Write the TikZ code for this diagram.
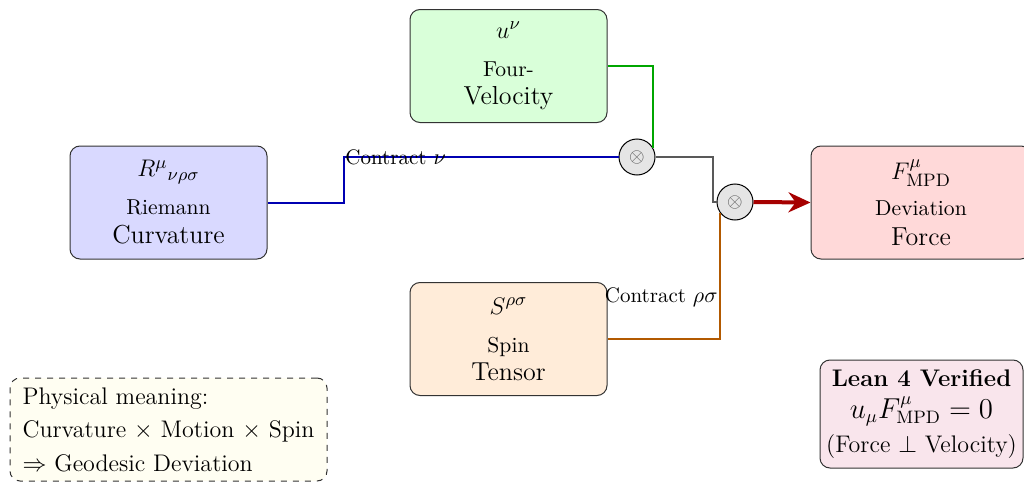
\documentclass[tikz,border=0pt]{standalone}
\usetikzlibrary{arrows.meta,calc}
\newcommand{\linea}{\fontsize{10.8}{13}\selectfont}
\newcommand{\lineb}{\fontsize{13}{15}\selectfont}
\tikzset{
  box/.style={draw=black!80, line width=0.5pt, rounded corners=5pt, align=center,
    minimum width=98.5pt, minimum height=56.5pt, inner sep=2pt},
  prod/.style={circle, draw=black, line width=0.5pt, fill=gray!20, minimum size=18pt,
    inner sep=0pt, text=black!65, font=\normalsize},
  conn/.style={line width=1pt},
  lbl/.style={font=\fontsize{10.5}{12}\selectfont, inner sep=0pt}
}
\begin{document}
\begin{tikzpicture}[x=0.5pt,y=-0.5pt]
\useasboundingbox (0,0) rectangle (1024,482);
% main boxes
\node[box, fill=blue!15] (riem) at (168.5,202.5)
  {{\lineb $R^{\mu}{}_{\nu\rho\sigma}$}\\[7pt]{\linea Riemann}\\[2.5pt]{\lineb Curvature}};
\node[box, fill=green!15] (vel) at (508.5,66)
  {{\lineb $u^{\nu}$}\\[7pt]{\linea Four-}\\[2pt]{\lineb Velocity}};
\node[box, fill=orange!15] (spin) at (508.5,339)
  {{\lineb $S^{\rho\sigma}$}\\[7pt]{\linea Spin}\\[2pt]{\lineb Tensor}};
\node[box, fill=red!15, minimum width=110pt] (force) at (921,202.5)
  {{\lineb $F^{\mu}_{\mathrm{MPD}}$}\\[6pt]{\linea Deviation}\\[3pt]{\lineb Force}};
% product nodes
\node[prod] (c1) at (637,157) {$\otimes$};
\node[prod] (c2) at (735,202) {$\otimes$};
% connectors
\draw[conn, draw=blue!70!black] (riem.east) -- ++(76,0) |- (c1.west);
\draw[conn, draw=green!65!black] (vel.east) -| (c1.30);
\draw[conn, draw=black!65] (c1.east) -- ++(57,0) |- (c2.west);
\draw[conn, draw=orange!70!black] (spin.east) -| (c2.217);
\draw[line width=2pt, draw=red!65!black, -{Stealth[length=11pt,width=10pt]}] (c2.east) -- (force.west);
% labels
\node[lbl, anchor=west] (l1) at (345,157) {Contract $\nu$};
\node[lbl, anchor=east] (l2) at (718,297) {Contract $\rho\sigma$};
% notes
\node[draw=black!80, dashed, line width=0.5pt, rounded corners=5pt, fill=yellow!5,
  minimum width=158.5pt, minimum height=51.5pt, align=left, inner sep=3pt, font=\large] (phys) at (168.5,429.5)
  {Physical meaning:\\[2.5pt]Curvature $\times$ Motion $\times$ Spin\\[3pt]$\Rightarrow$ Geodesic Deviation};
\node[draw=black!80, line width=0.5pt, rounded corners=5pt, fill=purple!10,
  minimum width=101.5pt, minimum height=54pt, align=center, inner sep=2pt, font=\large] (lean) at (921.5,414)
  {\textbf{Lean 4 Verified}\\[2pt]{\fontsize{13.5}{15}\selectfont $u_{\mu}F^{\mu}_{\mathrm{MPD}}=0$}\\[3pt](Force $\perp$ Velocity)};
\end{tikzpicture}
\end{document}
